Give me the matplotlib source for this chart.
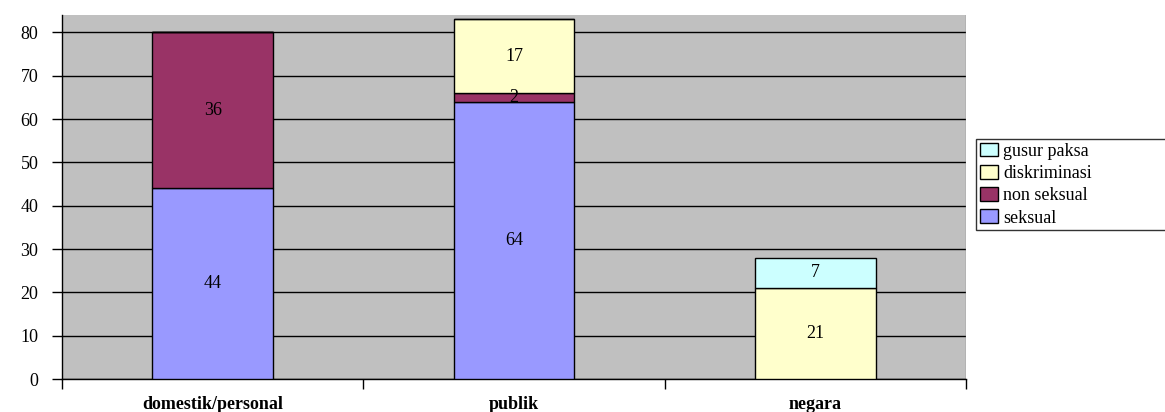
import numpy as np
import matplotlib
matplotlib.use('Agg')
from matplotlib import pyplot as plt

plt.rcParams['font.family'] = ['Liberation Serif', 'DejaVu Serif']
plt.rcParams['font.size'] = 12

# data
kategori = ['domestik/personal', 'publik', 'negara']
seksual = [44, 64, 0]
non_seksual = [36, 2, 0]
diskriminasi = [0, 17, 21]
gusur_paksa = [0, 0, 7]

seri = [
    ('seksual', seksual, '#9999FF'),
    ('non seksual', non_seksual, '#993366'),
    ('diskriminasi', diskriminasi, '#FFFFCC'),
    ('gusur paksa', gusur_paksa, '#CCFFFF'),
]

fig = plt.figure(figsize=(11.65, 4.12), dpi=100)
ax = fig.add_axes([62 / 1165, 33 / 412, 904 / 1165, 364 / 412])
ax.set_facecolor('#C0C0C0')

x = np.arange(len(kategori))
bottom = np.zeros(len(kategori))
handles = []
for nama, nilai, warna in seri:
    nilai = np.array(nilai, dtype=float)
    bars = ax.bar(x, nilai, width=0.4, bottom=bottom, color=warna,
                  edgecolor='black', linewidth=1, label=nama, zorder=3)
    for xi, b, v in zip(x, bottom, nilai):
        if v > 0:
            ax.text(xi, b + v / 2, f'{int(v)}', ha='center', va='center',
                    fontsize=13, zorder=4)
    handles.append(bars)
    bottom = bottom + nilai

ax.set_xlim(-0.5, len(kategori) - 0.5)
ax.set_ylim(0, 84)
ax.set_yticks(range(0, 81, 10))
ax.yaxis.grid(True, color='black', linewidth=1, zorder=1)
ax.set_axisbelow(True)

# tanda sumbu x di batas kategori, label di tengah
ax.set_xticks(np.arange(-0.5, len(kategori), 1.0))
ax.set_xticklabels([])
ax.set_xticks(x, minor=True)
ax.set_xticklabels(kategori, minor=True, fontweight='bold', fontsize=13)
ax.tick_params(axis='x', which='minor', length=0, pad=12)
ax.tick_params(axis='x', which='major', length=7, direction='out', width=1)
ax.tick_params(axis='y', length=7, direction='out', width=1, pad=10, labelsize=13)

for s in ['top', 'right']:
    ax.spines[s].set_visible(False)
ax.spines['left'].set_linewidth(1)
ax.spines['bottom'].set_linewidth(1)
ax.axvline(2.5, color='#808080', linewidth=1, zorder=2)

# legenda di kanan, melebar sampai tepi gambar
leg = fig.legend(handles[::-1], [s[0] for s in seri][::-1],
                 loc='upper left',
                 bbox_to_anchor=(976 / 1165, 1 - 229 / 412, 200 / 1165, 90 / 412),
                 mode='expand', frameon=True, fancybox=False, edgecolor='black',
                 borderpad=0.2, labelspacing=0.28, handlelength=1.0,
                 handleheight=0.8, handletextpad=0.3, borderaxespad=0,
                 fontsize=13)
leg.get_frame().set_linewidth(1)

fig.savefig('out.png', dpi=100)
